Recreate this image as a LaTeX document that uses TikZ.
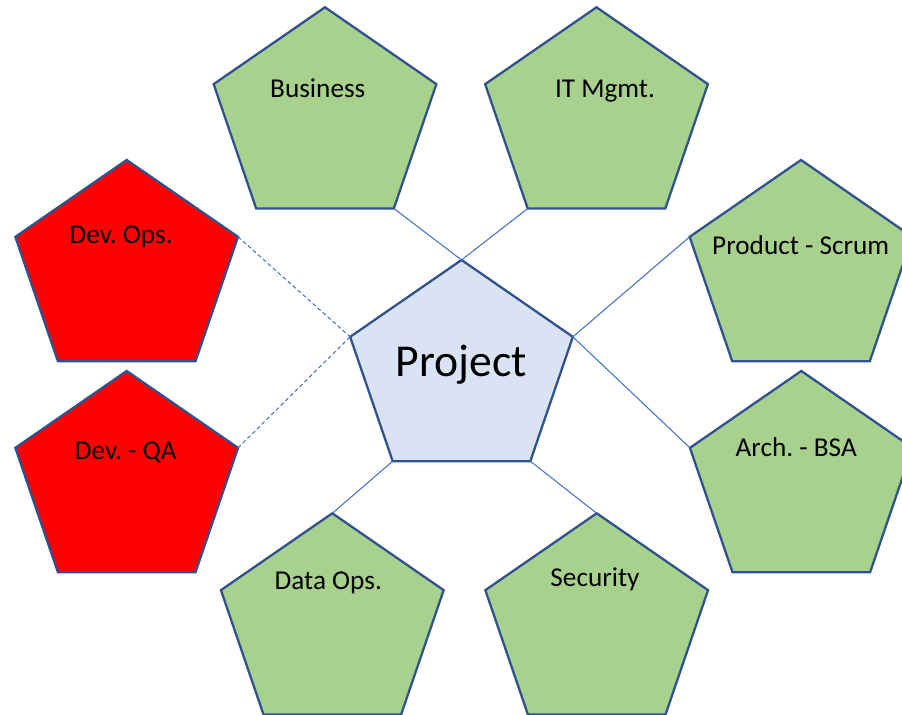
\documentclass[tikz,border=0pt]{standalone}
\usepackage{fontspec}
\setmainfont{Carlito}
\usetikzlibrary{shapes.geometric}
\frenchspacing

\definecolor{pgreen}{HTML}{A9D18E}
\definecolor{pred}{HTML}{FF0000}
\definecolor{pblue}{HTML}{DAE3F3}
\definecolor{pedge}{HTML}{2F528F}
\definecolor{plink}{HTML}{4472C4}

\tikzset{
  pent/.style={regular polygon, regular polygon sides=5, minimum size=4.684cm,
    inner sep=0pt, outer sep=0pt, yscale=0.95, draw=pedge, line width=1.3pt},
  lbl/.style={anchor=base, inner sep=0pt, font=\fontsize{15.5}{18}\selectfont},
  link/.style={draw=plink, line width=0.6pt},
  dashlink/.style={link, dash pattern=on 2.2pt off 1.6pt}
}

\begin{document}
\begin{tikzpicture}[x=0.02cm, y=-0.02cm]
  \useasboundingbox (0, 0) rectangle (902, 714);
  \clip (0, 0) rectangle (902, 714);

  % pentagons
  \node[pent, fill=pgreen] (business) at (325, 118.5) {};
  \node[pent, fill=pgreen] (itmgmt) at (596.5, 118.5) {};
  \node[pent, fill=pred] (devops) at (126.7, 271.2) {};
  \node[pent, fill=pred] (devqa) at (126.7, 482.2) {};
  \node[pent, fill=pgreen] (product) at (801, 271.2) {};
  \node[pent, fill=pgreen] (arch) at (801.3, 482.2) {};
  \node[pent, fill=pgreen] (dataops) at (332.3, 624.5) {};
  \node[pent, fill=pgreen] (security) at (596.7, 624.5) {};
  \node[pent, fill=pblue] (project) at (461.5, 371.2) {};

  % links
  \draw[link] (business.corner 4) -- (project.corner 1);
  \draw[link] (itmgmt.corner 3) -- (project.corner 1);
  \draw[dashlink] (devops.corner 5) -- (project.corner 2);
  \draw[dashlink] (devqa.corner 5) -- (project.corner 2);
  \draw[link] (product.corner 2) -- (project.corner 5);
  \draw[link] (arch.corner 2) -- (project.corner 5);
  \draw[link] (dataops.corner 1) -- (project.corner 3);
  \draw[link] (security.corner 1) -- (project.corner 4);

  % labels
  \node[lbl] (businesstext) at (317.8, 97.3) {Business};
  \node[lbl] (itmgmttext) at (605, 97.3) {IT Mgmt.};
  \node[lbl] (devopstext) at (121.2, 243.3) {Dev. Ops.};
  \node[lbl] (devqatext) at (125.8, 459.3) {Dev. - QA};
  \node[lbl] (producttext) at (800.7, 254.3) {Product - Scrum};
  \node[lbl] (archtext) at (796.2, 456.7) {Arch. - BSA};
  \node[lbl] (dataopstext) at (328.3, 589.3) {Data Ops.};
  \node[lbl] (securitytext) at (595, 586.7) {Security};
  \node[lbl, font=\fontsize{26}{30}\selectfont] (projecttext) at (461.3, 376) {Project};
\end{tikzpicture}
\end{document}
